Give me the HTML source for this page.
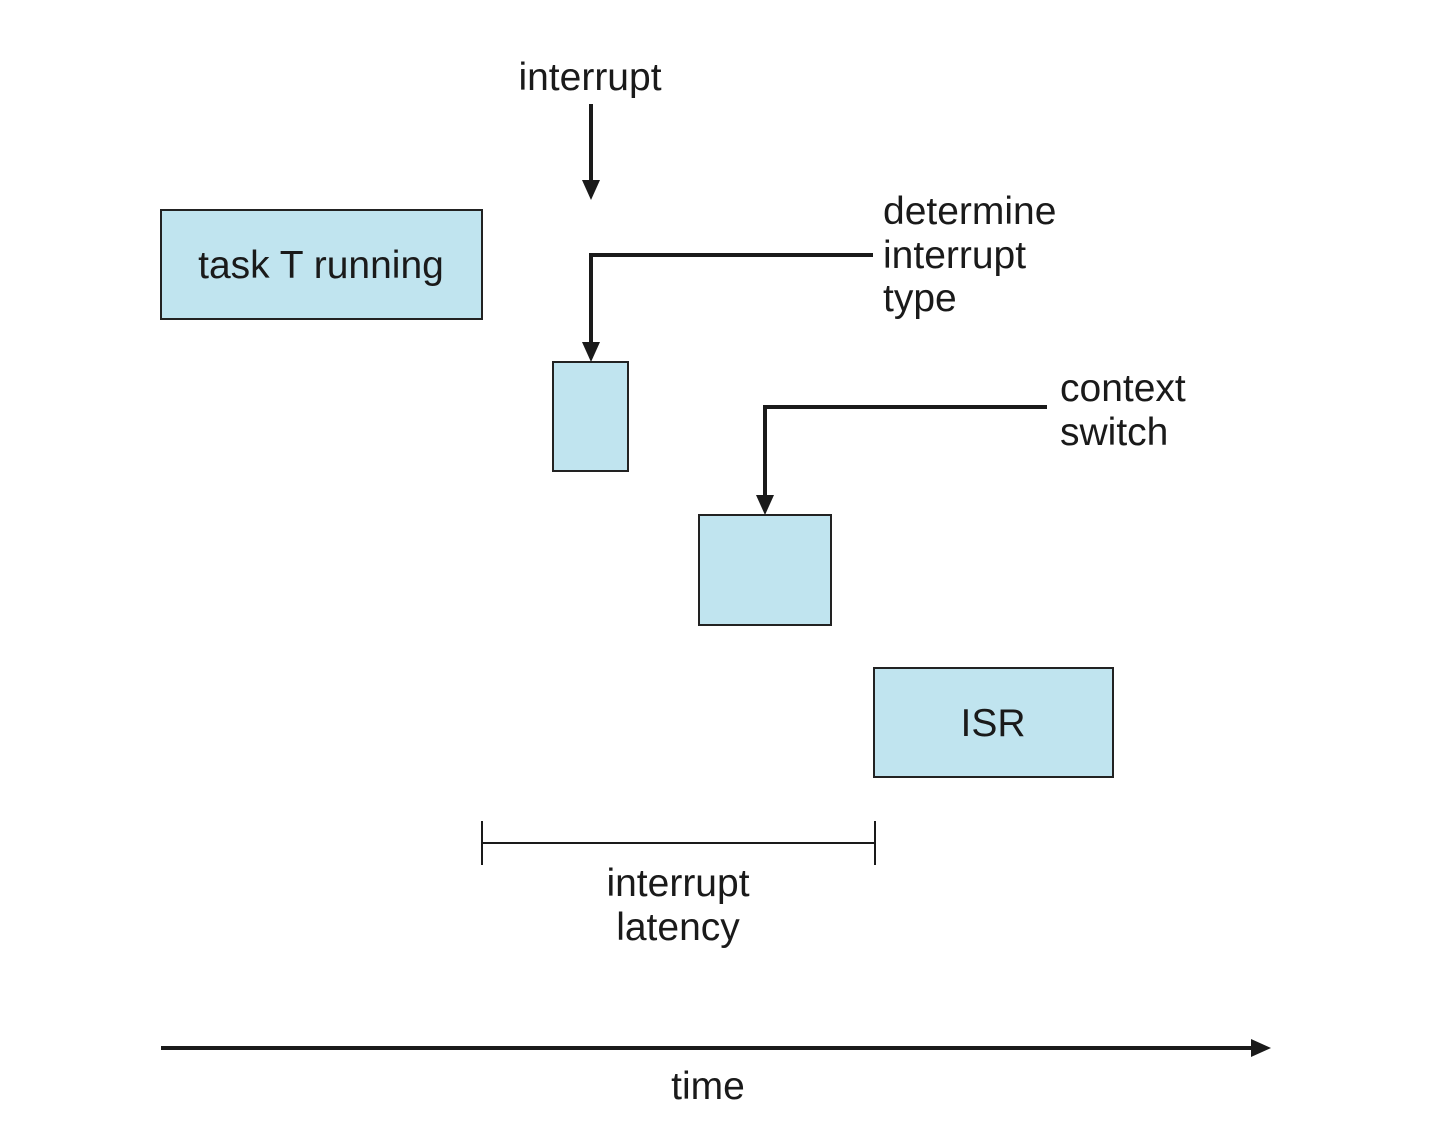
<!DOCTYPE html>
<html><head><meta charset="utf-8"><style>
html,body{margin:0;padding:0;background:#fff;}
svg{display:block;}
text{font-family:"Liberation Sans",Arial,sans-serif;font-size:39px;fill:#1a1a1a;}
</style></head><body>
<svg width="1438" height="1142" viewBox="0 0 1438 1142" xmlns="http://www.w3.org/2000/svg">
<g fill="#c0e4ef" stroke="#222" stroke-width="2">
<rect x="161" y="210" width="321" height="109"/>
<rect x="553" y="362" width="75" height="109"/>
<rect x="699" y="515" width="132" height="110"/>
<rect x="874" y="668" width="239" height="109"/>
</g>
<g stroke="#1a1a1a" stroke-width="4" fill="none">
<line x1="591" y1="104" x2="591" y2="186"/>
<polyline points="873,255 591,255 591,347"/>
<polyline points="1047,407 765,407 765,500"/>
<line x1="161" y1="1048" x2="1256" y2="1048"/>
</g>
<g fill="#1a1a1a">
<polygon points="582,180 600,180 591,200"/>
<polygon points="582,342 600,342 591,362"/>
<polygon points="756,495 774,495 765,515"/>
<polygon points="1251,1039 1271,1048 1251,1057"/>
</g>
<g stroke="#1a1a1a" stroke-width="2">
<line x1="482" y1="843" x2="875" y2="843"/>
<line x1="482" y1="821" x2="482" y2="865"/>
<line x1="875" y1="821" x2="875" y2="865"/>
</g>
<text x="590" y="90" text-anchor="middle">interrupt</text>
<text x="321" y="278" text-anchor="middle">task T running</text>
<text x="883" y="224">determine</text>
<text x="883" y="268">interrupt</text>
<text x="883" y="311">type</text>
<text x="1060" y="401">context</text>
<text x="1060" y="445">switch</text>
<text x="993" y="736" text-anchor="middle">ISR</text>
<text x="678" y="896" text-anchor="middle">interrupt</text>
<text x="678" y="940" text-anchor="middle">latency</text>
<text x="708" y="1099" text-anchor="middle">time</text>
</svg>
</body></html>
